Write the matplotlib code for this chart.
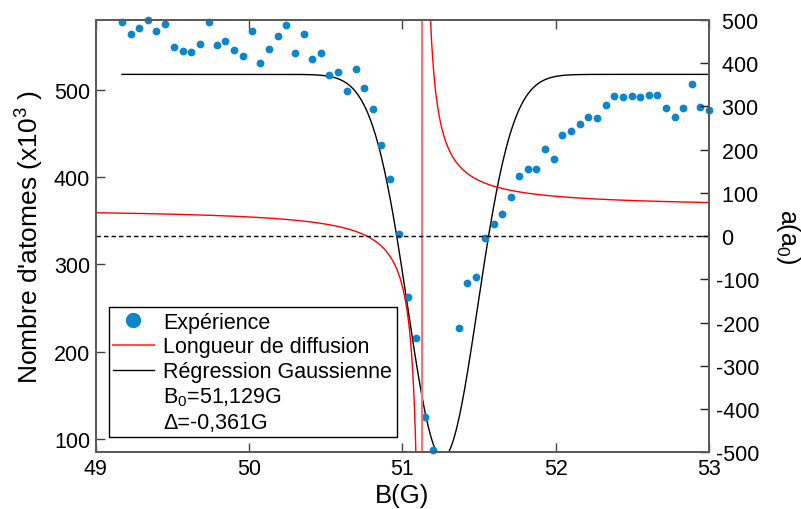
import numpy as np
import matplotlib
matplotlib.use('Agg')
import matplotlib.pyplot as plt
from matplotlib.lines import Line2D
from matplotlib.ticker import FuncFormatter

plt.rcParams.update({
    'font.family': 'Liberation Sans',
    'mathtext.fontset': 'custom',
    'mathtext.rm': 'Liberation Sans',
    'mathtext.it': 'Liberation Sans:italic',
    'mathtext.bf': 'Liberation Sans:bold',
    'font.size': 15,
    'xtick.labelsize': 15.5,
    'ytick.labelsize': 15.5,
})

# measured atom number vs magnetic field
B_exp = [49.171, 49.228, 49.285, 49.342, 49.396, 49.453, 49.509, 49.566, 49.623, 49.679,
         49.736, 49.792, 49.846, 49.903, 49.959, 50.016, 50.073, 50.129, 50.186, 50.243,
         50.299, 50.356, 50.413, 50.467, 50.524, 50.580, 50.637, 50.694, 50.750, 50.807,
         50.863, 50.919, 50.976, 51.033, 51.089, 51.145, 51.199,
         51.366, 51.423, 51.479, 51.538, 51.594, 51.648, 51.705, 51.762, 51.818, 51.873,
         51.929, 51.986, 52.042, 52.098, 52.155, 52.212, 52.268, 52.325, 52.381, 52.438,
         52.494, 52.548, 52.605, 52.661, 52.718, 52.774, 52.831, 52.887, 52.942, 52.998]
N_exp = [577.9, 563.8, 571.0, 580.2, 566.9, 574.9, 548.9, 544.0, 542.8, 552.0,
         577.2, 550.8, 555.8, 545.8, 538.9, 566.9, 530.2, 546.9, 561.8, 573.7,
         541.7, 563.8, 534.8, 542.0, 517.2, 520.3, 498.9, 524.0, 501.9, 478.2,
         437.0, 398.1, 335.1, 262.3, 215.7, 124.9, 87.1,
         226.8, 278.3, 285.2, 330.5, 346.2, 357.7, 377.1, 401.2, 409.2, 409.2,
         432.4, 420.3, 448.1, 452.4, 461.1, 469.1, 467.3, 482.8, 493.1, 491.3,
         493.1, 492.0, 494.3, 494.3, 479.0, 469.1, 479.0, 506.2, 480.2, 477.1]

# Feshbach resonance parameters (scattering length model)
B0 = 51.129
delta = -0.361
a_bg = 65.0

# gaussian fit of the loss
g_offset = 517.6
g_amp = 439.0
g_center = 51.262
g_sigma = 0.228

fig = plt.figure(figsize=(8.01, 5.10), dpi=100)
ax = fig.add_axes([0.1195, 0.1108, 0.7659, 0.8486])
ax2 = ax.twinx()

spine_col = '#5a5a5a'
for a in (ax, ax2):
    for s in a.spines.values():
        s.set_color(spine_col)
        s.set_linewidth(1.3)

# left axis: atoms
ax.plot(B_exp, N_exp, 'o', color='#0a86cc', markersize=5.6, markeredgewidth=0,
        clip_on=False, zorder=3)
Bg = np.linspace(B_exp[0], 53.0, 800)
ax.plot(Bg, g_offset - g_amp * np.exp(-(Bg - g_center) ** 2 / (2 * g_sigma ** 2)),
        color='black', lw=1.0, zorder=2)
ax.set_xlim(49, 53)
ax.set_ylim(84.6, 580.2)
ax.set_xticks([49, 50, 51, 52, 53])
ax.set_yticks([100, 200, 300, 400, 500])
ax.tick_params(axis='both', direction='in', length=6.5, width=1.0, color='#444444',
               top=True, pad=4)
ax.set_xlabel('B(G)', fontsize=18.5, labelpad=3)
ax.set_ylabel("Nombre d'atomes (x10$^3$ )", fontsize=19, labelpad=6)

# right axis: scattering length
Bl = np.linspace(49, B0 - 0.002, 1500)
Br = np.linspace(B0 + 0.002, 53, 1500)
ax2.plot(Bl, a_bg * (1 - delta / (Bl - B0)), color='red', lw=1.0)
ax2.plot(Br, a_bg * (1 - delta / (Br - B0)), color='red', lw=1.0)
ax2.axvline(B0, color='#ff7070', lw=1.5)
ax2.axhline(0, color='black', lw=1.0, dashes=(3.2, 2.2))
ax2.set_ylim(-500, 500)
ax2.set_yticks(np.arange(-500, 501, 100))
ax2.yaxis.set_major_formatter(FuncFormatter(lambda v, p: f'{int(v)}' if v < 0 else f' {int(v)}'))
ax2.tick_params(axis='y', direction='in', length=6.5, width=1.0, color='#222222', pad=5)
for t in ax2.get_yticklabels():
    t.set_ha('left')
ax2.set_ylabel('a(a$_0$)', fontsize=18, rotation=270, va='bottom', labelpad=10)

handles = [
    Line2D([], [], marker='o', color='#0a86cc', linestyle='none', markersize=10),
    Line2D([], [], color='#ff5050', lw=1.5),
    Line2D([], [], color='black', lw=1.0),
    Line2D([], [], linestyle='none'),
    Line2D([], [], linestyle='none'),
]
labels = ['Expérience', 'Longueur de diffusion', 'Régression Gaussienne',
          'B$_0$=51,129G', 'Δ=-0,361G']
leg = ax2.legend(handles, labels, loc='lower left', bbox_to_anchor=(0.021, 0.035),
                 fontsize=15.5, frameon=True, fancybox=False, framealpha=1,
                 edgecolor='black', borderpad=0.2, labelspacing=0.17,
                 handlelength=1.9, handletextpad=0.45, borderaxespad=0)
leg.get_frame().set_linewidth(1.0)

fig.savefig('out.png', dpi=100)
